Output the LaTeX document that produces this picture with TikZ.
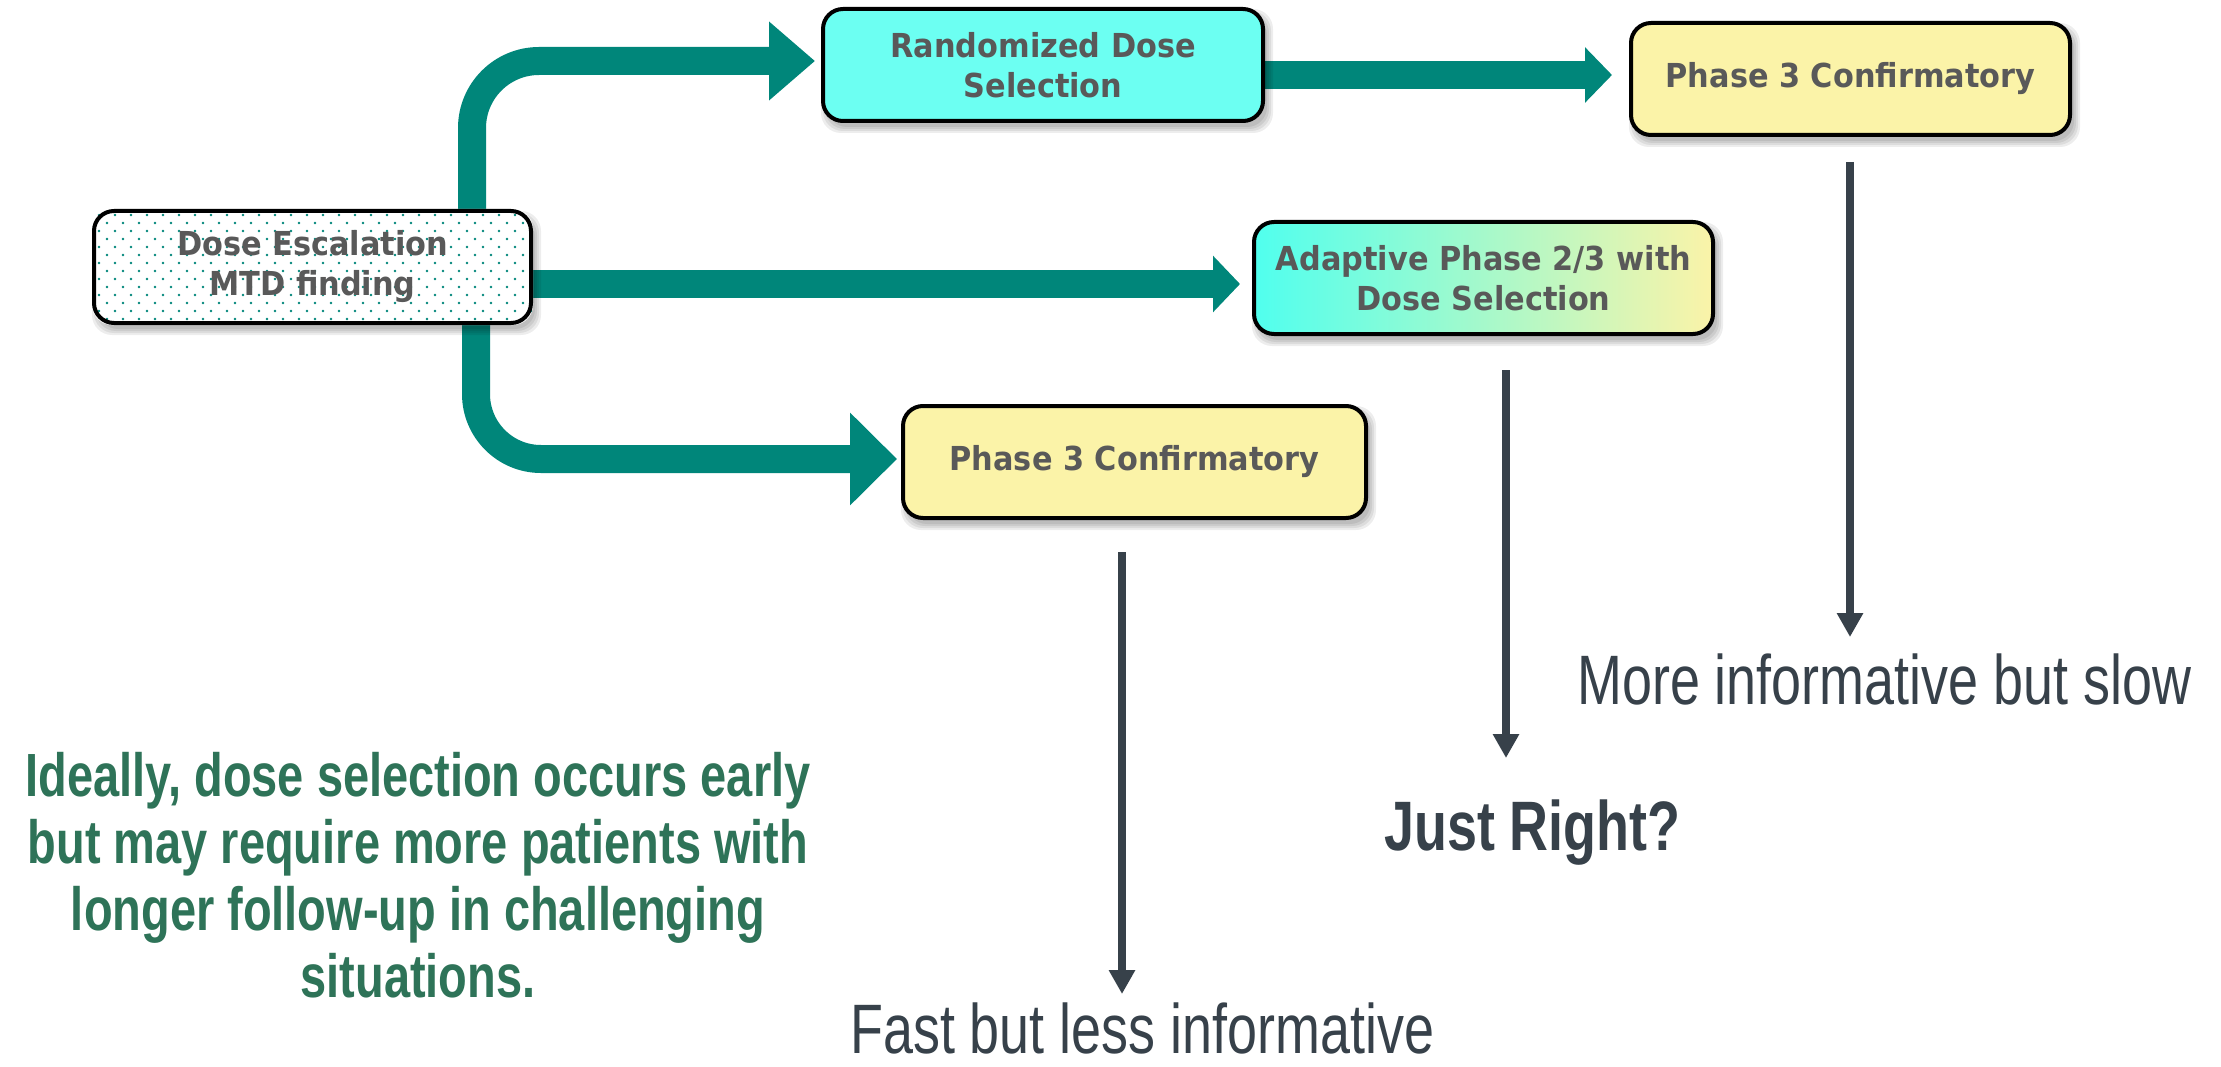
\documentclass[tikz,border=0pt]{standalone}
\usepackage{fontspec}
\usetikzlibrary{arrows.meta}
\newfontfamily\boxfont[FakeStretch=0.92]{DejaVu Sans}
\newfontfamily\labfont[FakeStretch=0.77]{Liberation Sans}
\definecolor{arrowteal}{RGB}{0,134,122}
\definecolor{boxgray}{RGB}{89,89,89}
\definecolor{labgray}{RGB}{55,65,74}
\definecolor{notegreen}{RGB}{46,115,88}
\definecolor{aquafill}{RGB}{108,255,242}
\definecolor{aqualeft}{RGB}{80,255,238}
\definecolor{paleyellow}{RGB}{251,243,168}
\pgfdeclarelayer{bg}
\pgfsetlayers{bg,main}
\newcommand\mysoftshadow[1]{%
  \foreach \e in {-2,0,2,4}{%
    \fill[black, opacity=0.07, rounded corners=20pt]
      ([shift={({4pt-\e pt},{-6pt+\e pt})}]#1.north west) rectangle
      ([shift={({4pt+\e pt},{-6pt-\e pt})}]#1.south east);}}
\tikzset{
  box/.style={draw=black, line width=4pt, rounded corners=20pt, inner sep=0pt,
    align=center, text=boxgray, minimum height=112pt,
    font={\boxfont\bfseries\fontsize{33}{40}\selectfont}},
  big/.style={draw=arrowteal, line width=28pt},
  gar/.style={draw=labgray, line width=8pt, -{Triangle[length=24pt,width=25pt]}},
  lab/.style={inner sep=0pt, text=labgray, font={\labfont\fontsize{70}{80}\selectfont}},
  labbold/.style={inner sep=0pt, text=labgray, font={\labfont\bfseries\fontsize{70}{80}\selectfont}},
  note/.style={inner sep=0pt, text=notegreen, align=center, font={\labfont\bfseries\fontsize{61}{67}\selectfont}}
}
\begin{document}
\begin{tikzpicture}[x=1pt,y=-1pt]
\begin{pgfonlayer}{bg}
\fill[white] (0,0) rectangle (2221,1067);
\end{pgfonlayer}
\useasboundingbox (0,0) rectangle (2221,1067);

\node[box, minimum width=437pt] (dose) at (312.5,267) {Dose Escalation\\MTD finding};
\node[box, fill=aquafill, minimum width=440pt] (rand) at (1043,65) {Randomized Dose\\Selection};
\node[box, fill=paleyellow, minimum width=439pt] (p3t) at (1850.5,79) {Phase 3 Confirmatory};
\node[box, left color=aqualeft, right color=paleyellow, minimum width=459pt] (adapt) at (1483.5,278) {Adaptive Phase 2/3 with\\Dose Selection};
\node[box, fill=paleyellow, minimum width=463pt] (p3b) at (1134.5,462) {Phase 3 Confirmatory};

\node[lab, anchor=base west] (slow) at (1577,704) {More informative but slow};
\node[labbold, anchor=base west] (right) at (1384,850) {Just Right?};
\node[lab, anchor=base west] (fast) at (850,1053) {Fast but less informative};
\node[note, anchor=base] (notetext) at (418,997) {Ideally, dose selection occurs early\\but may require more patients with\\longer follow-up in challenging\\situations.};

\coordinate (tipA) at (1122,994);
\coordinate (tipB) at (1506,758);
\coordinate (tipC) at (1850,637);

\begin{pgfonlayer}{bg}
\draw[big, rounded corners=67pt, -{Triangle[length=46pt,width=76pt]}, shorten >=6pt]
  ([xshift=159.5pt]dose.north) |- ([yshift=4pt]rand.west);
\draw[big, -{Triangle[length=27pt,width=55pt]}, shorten >=12pt]
  ([yshift=-17pt]dose.east) -- ([yshift=-17pt]dose.east -| adapt.west);
\draw[big, rounded corners=65pt, -{Triangle[length=47pt,width=90pt]}, shorten >=4pt]
  ([xshift=163.5pt]dose.south) |- ([yshift=3pt]p3b.west);
\draw[big, -{Triangle[length=27pt,width=54pt]}, shorten >=17pt]
  ([yshift=-10pt]rand.east) -- ([yshift=-10pt]rand.east -| p3t.west);
% soft shadows under the boxes
\mysoftshadow{dose}
\mysoftshadow{rand}
\mysoftshadow{p3t}
\mysoftshadow{adapt}
\mysoftshadow{p3b}
% dotted fill of the dose escalation box
\fill[white, rounded corners=20pt] (dose.north west) rectangle (dose.south east);
\begin{scope}
  \clip[rounded corners=20pt] (dose.north west) rectangle (dose.south east);
  \foreach \j in {0,...,14}{
    \foreach \i in {0,...,28}{
      \pgfmathsetmacro\dx{99+16*\i+8*mod(\j,2)}
      \pgfmathsetmacro\dy{215+8*\j}
      \fill[arrowteal] (\dx,\dy) circle[radius=1.3pt];
    }}
\end{scope}
\end{pgfonlayer}

\draw[gar] ([yshift=-32pt]tipA |- p3b.south) -- (tipA);
\draw[gar] ([yshift=-34pt]tipB |- adapt.south) -- (tipB);
\draw[gar] ([yshift=-25pt]tipC |- p3t.south) -- (tipC);
\end{tikzpicture}
\end{document}
